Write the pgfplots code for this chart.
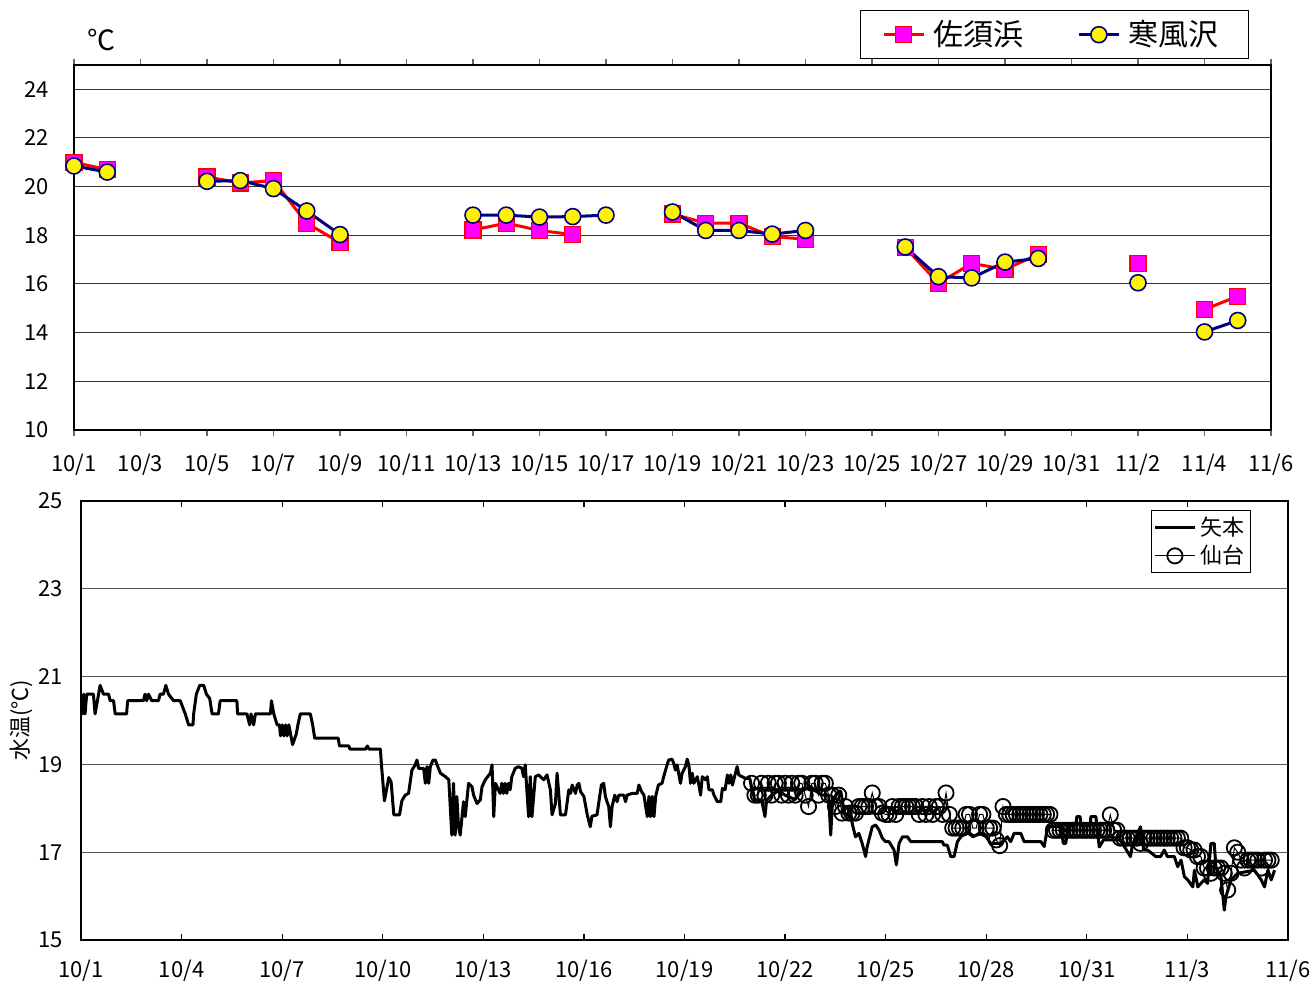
\documentclass[border=0pt]{standalone}
\usepackage{fontspec}
\setmainfont{Noto Sans CJK JP}
\usepackage{pgfplots}
\pgfplotsset{compat=1.18}
\definecolor{navy}{RGB}{0,0,128}
\definecolor{mag}{RGB}{255,0,255}
\begin{document}
\begin{tikzpicture}
\useasboundingbox (0,0) rectangle (656.5pt,490.5pt);
% ---------------- top panel ----------------
\begin{axis}[
  at={(37pt,275.5pt)}, anchor=south west, scale only axis,
  width=598.5pt, height=182.5pt,
  xmin=0, xmax=36, ymin=10, ymax=25,
  xtick={0,2,...,36},
  xticklabels={10/1,10/3,10/5,10/7,10/9,10/11,10/13,10/15,10/17,10/19,10/21,10/23,10/25,10/27,10/29,10/31,11/2,11/4,11/6},
  ytick={10,12,...,24},
  ymajorgrids, grid style={black!80, line width=0.5pt},
  axis line style={black, line width=0.6pt},
  tick align=outside, major tick length=3pt,
  xtick style={black!60, line width=0.7pt}, ytick style={draw=none},
  tick label style={font=\fontsize{11}{13}\selectfont},
  /pgf/number format/assume math mode=true,
  xticklabel style={yshift=-5.5pt},
  yticklabel style={xshift=-6pt},
  unbounded coords=jump, clip=false,
  legend columns=2,
  legend style={at={(0.9816,1.1507)}, anchor=north east, draw=black, line width=0.6pt,
    font=\fontsize{15}{17}\selectfont, inner xsep=11pt, inner ysep=3pt,
    nodes={inner xsep=4pt},
    /tikz/every even column/.append style={column sep=23pt}},
  legend image code/.code={\draw[mark repeat=2,mark phase=2] plot coordinates {(0pt,0pt) (10pt,0pt) (20pt,0pt)};},
]
\addplot[red, line width=1.5pt, mark=square*, mark size=4pt,
  mark options={fill=mag, draw=red, line width=0.6pt}] table[x=d, y=v] {
d v
0 21.0
1 20.7
2 nan
4 20.4
5 20.15
6 20.25
7 18.5
8 17.7
9 nan
12 18.22
13 18.5
14 18.2
15 18.03
16 nan
18 18.88
19 18.5
20 18.5
21 17.95
22 17.84
23 nan
25 17.5
26 16.03
27 16.85
28 16.6
29 17.22
30 nan
32 16.85
33 nan
34 14.95
35 15.5
};
\addlegendentry{佐須浜}
\addplot[navy, line width=1.5pt, mark=*, mark size=4pt,
  mark options={fill=yellow, draw=navy, line width=0.8pt}] table[x=d, y=v] {
d v
0 20.85
1 20.6
2 nan
4 20.22
5 20.25
6 19.92
7 19.0
8 18.03
9 nan
12 18.83
13 18.83
14 18.75
15 18.77
16 18.83
17 nan
18 18.96
19 18.2
20 18.2
21 18.05
22 18.2
23 nan
25 17.52
26 16.3
27 16.25
28 16.9
29 17.05
30 nan
32 16.05
33 nan
34 14.03
35 14.5
};
\addlegendentry{寒風沢}
\node[font=\fontsize{14}{16}\selectfont] at (rel axis cs:0.023,1.068) {℃};
\end{axis}
% ---------------- bottom panel ----------------
\begin{axis}[
  at={(40.5pt,20.5pt)}, anchor=south west, scale only axis,
  width=603.5pt, height=219.5pt,
  xmin=0, xmax=36, ymin=15, ymax=25,
  xtick={0,3,...,36},
  xticklabels={10/1,10/4,10/7,10/10,10/13,10/16,10/19,10/22,10/25,10/28,10/31,11/3,11/6},
  ytick={15,17,...,25},
  ymajorgrids, grid style={black!65, line width=0.5pt},
  axis line style={black, line width=0.7pt},
  tick align=inside, major tick length=3pt,
  xtick style={black, line width=0.6pt}, ytick style={draw=none},
  tick label style={font=\fontsize{11}{13}\selectfont},
  /pgf/number format/assume math mode=true,
  xticklabel style={yshift=-6.5pt},
  yticklabel style={xshift=-5.5pt},
  ylabel={水温(℃)},
  ylabel style={at={(axis description cs:-0.049,0.5)}, anchor=center, font=\fontsize{11}{13}\selectfont},
  legend style={at={(0.9693,0.9795)}, anchor=north east, draw=black, line width=0.5pt,
    font=\fontsize{11}{12}\selectfont, inner xsep=1pt, inner ysep=1pt, row sep=-0.5pt},
  legend image code/.code={\draw[mark repeat=2,mark phase=2] plot coordinates {(0pt,0pt) (10pt,0pt) (20pt,0pt)};},
]
\addplot[black, line width=1.5pt, line join=round] table {
0 20.6
0.05 20.15
0.08 20.6
0.12 20.15
0.17 20.6
0.37 20.6
0.42 20.15
0.49 20.45
0.57 20.8
0.67 20.6
0.82 20.6
0.87 20.45
0.97 20.45
1.02 20.15
1.36 20.15
1.39 20.45
1.86 20.45
1.91 20.6
1.96 20.45
2.01 20.6
2.11 20.45
2.31 20.45
2.36 20.6
2.46 20.6
2.53 20.8
2.61 20.6
2.76 20.45
2.96 20.45
3.11 20.15
3.21 19.9
3.34 19.9
3.36 20.15
3.44 20.6
3.54 20.8
3.66 20.8
3.74 20.6
3.84 20.5
3.91 20.15
4.10 20.15
4.15 20.45
4.65 20.45
4.67 20.15
4.95 20.15
5.03 19.9
5.07 20.15
5.15 19.9
5.20 20.15
5.65 20.15
5.68 20.45
5.75 20.15
5.85 19.9
5.92 19.9
5.95 19.65
6.0 19.9
6.05 19.65
6.1 19.9
6.15 19.65
6.2 19.9
6.31 19.45
6.42 19.69
6.47 19.9
6.54 20.15
6.84 20.15
6.91 19.9
6.97 19.6
7.67 19.6
7.71 19.42
7.99 19.42
8.02 19.35
8.49 19.35
8.54 19.42
8.59 19.35
8.93 19.35
8.96 19.0
9.05 18.17
9.18 18.7
9.25 18.6
9.33 17.85
9.5 17.85
9.57 18.17
9.67 18.3
9.77 18.34
9.87 18.87
9.97 18.99
10.02 19.1
10.07 18.91
10.22 18.91
10.27 18.57
10.32 18.95
10.37 18.57
10.42 18.95
10.5 19.1
10.57 19.1
10.62 18.99
10.72 18.8
10.87 18.72
10.97 18.65
11.06 17.39
11.11 18.57
11.16 17.39
11.21 18.27
11.26 17.58
11.31 17.39
11.41 18.15
11.46 17.81
11.56 18.57
11.66 18.49
11.71 18.3
11.81 18.11
11.91 18.19
11.96 18.49
12.06 18.65
12.21 18.8
12.26 18.99
12.31 17.81
12.36 18.57
12.41 18.49
12.5 18.34
12.55 18.57
12.6 18.34
12.65 18.57
12.7 18.34
12.75 18.57
12.8 18.42
12.85 18.72
12.95 18.91
13.05 18.95
13.15 18.91
13.2 18.72
13.25 18.99
13.35 17.81
13.4 18.72
13.45 17.81
13.55 18.72
13.65 18.76
13.8 18.65
13.9 18.76
14.0 18.42
14.05 17.85
14.15 18.11
14.2 18.8
14.3 17.85
14.45 17.85
14.55 18.42
14.6 18.34
14.65 18.53
14.75 18.34
14.8 18.53
14.85 18.57
14.9 18.38
15.0 18.27
15.1 17.85
15.19 17.58
15.24 17.82
15.39 17.85
15.44 18.11
15.52 18.53
15.59 18.57
15.64 18.27
15.69 18.15
15.74 18.04
15.79 17.58
15.84 18.04
15.92 18.3
15.99 18.15
16.04 18.3
16.19 18.3
16.24 18.15
16.29 18.3
16.44 18.34
16.59 18.34
16.64 18.53
16.72 18.38
16.79 18.3
16.89 17.81
16.94 18.27
16.99 17.81
17.04 18.27
17.09 17.81
17.14 18.27
17.22 18.53
17.33 18.57
17.38 18.72
17.48 18.99
17.53 19.1
17.63 19.12
17.68 19.02
17.73 18.87
17.78 18.99
17.88 18.57
17.93 18.8
18.03 18.95
18.08 19.12
18.13 18.99
18.18 18.57
18.23 18.8
18.28 18.57
18.38 18.72
18.43 18.53
18.48 18.3
18.53 18.72
18.63 18.65
18.68 18.72
18.73 18.42
18.83 18.42
18.88 18.3
18.98 18.15
19.08 18.15
19.13 18.45
19.21 18.42
19.28 18.76
19.33 18.57
19.38 18.76
19.43 18.53
19.52 18.8
19.57 18.95
19.62 18.76
19.72 18.72
19.82 18.68
19.95 18.68
20.0 18.45
20.1 18.19
20.3 18.19
20.4 17.81
20.45 18.19
20.6 18.3
20.8 18.4
21.0 18.3
21.3 18.2
21.5 18.4
21.76 18.5
21.9 18.4
22.1 18.3
22.3 18.3
22.36 17.39
22.42 18.2
22.6 18.39
22.66 18.39
22.75 18.0
22.8 17.81
22.95 17.96
23.0 17.66
23.1 17.35
23.2 17.43
23.3 17.2
23.4 16.9
23.45 17.13
23.55 17.43
23.6 17.58
23.7 17.62
23.8 17.51
23.9 17.32
24.0 17.24
24.1 17.24
24.25 17.05
24.32 16.71
24.4 17.2
24.5 17.35
24.65 17.35
24.75 17.24
25.69 17.24
25.74 17.16
25.84 17.16
25.94 16.9
26.04 16.9
26.14 17.24
26.24 17.35
26.44 17.47
26.6 17.35
26.8 17.43
27.0 17.35
27.13 17.2
27.43 17.2
27.63 17.35
27.73 17.24
27.83 17.43
28.03 17.43
28.13 17.24
28.63 17.24
28.73 17.13
28.83 17.58
29.22 17.58
29.3 17.2
29.37 17.2
29.45 17.6
29.67 17.6
29.7 17.81
29.8 17.81
29.82 17.6
30.1 17.6
30.12 17.81
30.27 17.81
30.3 17.6
30.37 17.12
30.5 17.28
31.0 17.28
31.3 16.9
31.35 17.12
31.6 17.58
31.7 17.05
31.81 17.05
32.06 16.9
32.2 16.9
32.31 17.05
32.4 16.9
32.61 16.9
32.71 16.67
32.81 16.82
32.91 16.44
33.01 16.37
33.16 16.21
33.21 16.59
33.31 16.21
33.5 16.37
33.6 16.29
33.7 17.2
33.8 17.2
33.85 16.67
34.0 16.44
34.1 15.68
34.15 15.99
34.3 16.37
34.5 16.52
35.0 16.59
35.2 16.37
35.3 16.21
35.4 16.59
35.5 16.37
35.6 16.59
};
\addlegendentry{矢本}
\addplot[black, line width=0.5pt, mark=o, mark size=3.8pt,
  mark options={fill=white, draw=black, line width=0.9pt}] table {
20.0 18.57
20.1 18.3
20.2 18.3
20.3 18.57
20.4 18.3
20.5 18.57
20.6 18.3
20.7 18.57
20.8 18.57
20.9 18.3
21.0 18.57
21.1 18.3
21.2 18.57
21.3 18.3
21.4 18.57
21.5 18.57
21.6 18.3
21.7 18.04
21.8 18.57
21.9 18.57
22.0 18.3
22.1 18.57
22.2 18.57
22.3 18.3
22.4 18.3
22.5 18.04
22.6 18.3
22.7 17.89
22.8 18.04
22.9 17.89
23.0 17.89
23.1 17.89
23.2 18.04
23.3 18.04
23.4 18.04
23.5 18.04
23.6 18.35
23.7 18.04
23.8 18.04
23.9 17.89
24.0 17.86
24.1 17.86
24.2 18.04
24.3 17.86
24.4 18.04
24.5 18.04
24.6 18.04
24.7 18.04
24.8 18.04
24.9 18.04
25.0 17.86
25.1 18.04
25.2 17.86
25.3 18.04
25.4 17.86
25.5 18.04
25.6 18.04
25.7 17.86
25.8 18.35
25.9 17.86
26.0 17.55
26.1 17.55
26.2 17.55
26.3 17.55
26.4 17.86
26.5 17.86
26.6 17.55
26.7 17.55
26.8 17.86
26.9 17.86
27.0 17.55
27.1 17.55
27.2 17.55
27.3 17.28
27.4 17.15
27.5 18.04
27.6 17.86
27.7 17.86
27.8 17.86
27.9 17.86
28.0 17.86
28.1 17.86
28.2 17.86
28.3 17.86
28.4 17.86
28.5 17.86
28.6 17.86
28.7 17.86
28.8 17.86
28.9 17.86
29.0 17.5
29.1 17.5
29.2 17.5
29.3 17.5
29.4 17.5
29.5 17.5
29.6 17.5
29.7 17.5
29.8 17.5
29.9 17.5
30.0 17.5
30.1 17.5
30.2 17.5
30.3 17.5
30.4 17.5
30.5 17.5
30.6 17.5
30.7 17.85
30.8 17.5
30.9 17.5
31.0 17.32
31.1 17.32
31.2 17.32
31.3 17.32
31.4 17.32
31.5 17.32
31.6 17.2
31.7 17.32
31.8 17.32
31.9 17.32
32.0 17.32
32.1 17.32
32.2 17.32
32.3 17.32
32.4 17.32
32.5 17.32
32.6 17.32
32.7 17.32
32.8 17.32
32.9 17.1
33.0 17.1
33.1 17.05
33.2 17.05
33.3 16.9
33.4 16.9
33.5 16.64
33.6 16.64
33.7 16.52
33.8 16.64
33.9 16.64
34.0 16.64
34.1 16.52
34.2 16.14
34.3 16.52
34.4 17.1
34.5 17.0
34.6 16.82
34.7 16.64
34.8 16.82
34.9 16.82
35.0 16.82
35.1 16.82
35.2 16.64
35.3 16.82
35.4 16.82
35.5 16.82
};
\addlegendentry{仙台}
\end{axis}
\end{tikzpicture}
\end{document}
